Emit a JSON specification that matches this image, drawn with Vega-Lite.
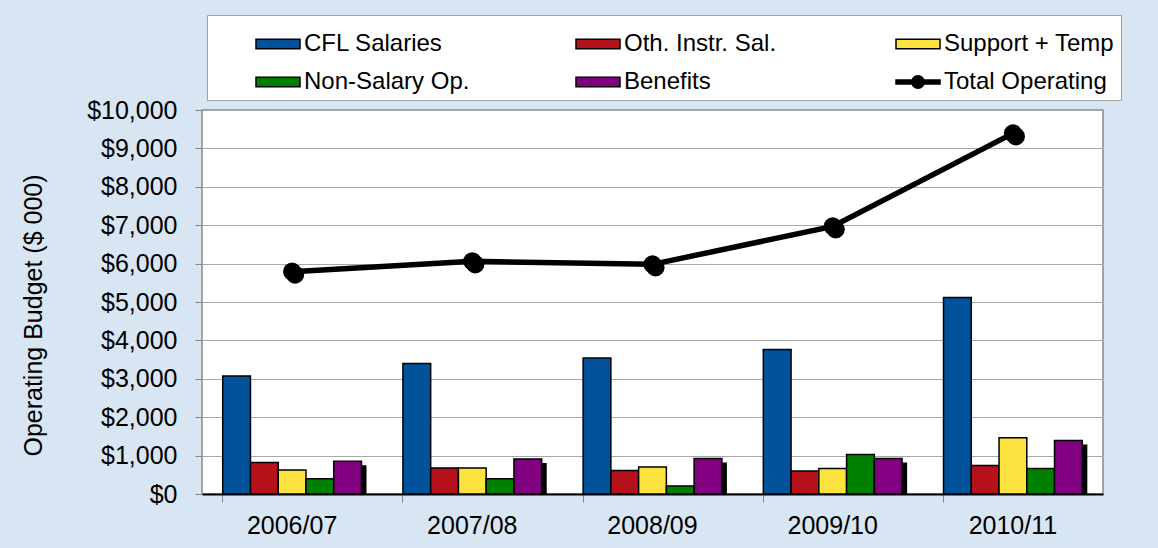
{
  "$schema": "https://vega.github.io/schema/vega-lite/v6.json",
  "width": 901,
  "height": 384,
  "autosize": {"type": "none"},
  "padding": {"left": 202, "top": 110, "right": 55, "bottom": 54},
  "background": "#d8e5f3",
  "config": {
    "font": "Liberation Sans",
    "view": {"fill": "white", "stroke": "#8a8a8a", "strokeWidth": 1.5}
  },
  "datasets": {
    "bars": [
      {"year": "2006/07", "series": "CFL Salaries", "value": 3070},
      {"year": "2006/07", "series": "Oth. Instr. Sal.", "value": 820},
      {"year": "2006/07", "series": "Support + Temp", "value": 625},
      {"year": "2006/07", "series": "Non-Salary Op.", "value": 400},
      {"year": "2006/07", "series": "Benefits", "value": 850},
      {"year": "2007/08", "series": "CFL Salaries", "value": 3400},
      {"year": "2007/08", "series": "Oth. Instr. Sal.", "value": 680},
      {"year": "2007/08", "series": "Support + Temp", "value": 680},
      {"year": "2007/08", "series": "Non-Salary Op.", "value": 400},
      {"year": "2007/08", "series": "Benefits", "value": 910},
      {"year": "2008/09", "series": "CFL Salaries", "value": 3540},
      {"year": "2008/09", "series": "Oth. Instr. Sal.", "value": 615},
      {"year": "2008/09", "series": "Support + Temp", "value": 700},
      {"year": "2008/09", "series": "Non-Salary Op.", "value": 210},
      {"year": "2008/09", "series": "Benefits", "value": 925},
      {"year": "2009/10", "series": "CFL Salaries", "value": 3765},
      {"year": "2009/10", "series": "Oth. Instr. Sal.", "value": 600},
      {"year": "2009/10", "series": "Support + Temp", "value": 665},
      {"year": "2009/10", "series": "Non-Salary Op.", "value": 1030},
      {"year": "2009/10", "series": "Benefits", "value": 925},
      {"year": "2010/11", "series": "CFL Salaries", "value": 5120},
      {"year": "2010/11", "series": "Oth. Instr. Sal.", "value": 740},
      {"year": "2010/11", "series": "Support + Temp", "value": 1465},
      {"year": "2010/11", "series": "Non-Salary Op.", "value": 665},
      {"year": "2010/11", "series": "Benefits", "value": 1395}
    ],
    "totals": [
      {"year": "2006/07", "value": 5790},
      {"year": "2007/08", "value": 6060},
      {"year": "2008/09", "value": 5980},
      {"year": "2009/10", "value": 6970},
      {"year": "2010/11", "value": 9390}
    ]
  },
  "resolve": {"scale": {"xOffset": "independent"}},
  "encoding": {
    "x": {
      "field": "year",
      "type": "nominal",
      "scale": {"paddingInner": 0.23, "paddingOuter": 0.115},
      "title": null,
      "axis": {
        "labelAngle": 0,
        "labelFontSize": 25,
        "labelColor": "black",
        "labelPadding": 11,
        "domainColor": "black",
        "domainWidth": 2,
        "tickColor": "#888888",
        "tickSize": 8,
        "bandPosition": 0,
        "grid": false
      }
    },
    "y": {
      "field": "value",
      "type": "quantitative",
      "scale": {"domain": [0, 10000], "nice": false},
      "title": "Operating Budget ($ 000)",
      "axis": {
        "values": [0, 1000, 2000, 3000, 4000, 5000, 6000, 7000, 8000, 9000, 10000],
        "tickCount": 12,
        "labelOverlap": false,
        "format": "$,.0f",
        "domain": false,
        "labelFontSize": 25,
        "labelColor": "black",
        "labelPadding": 18,
        "tickColor": "#888888",
        "tickSize": 7,
        "gridColor": "#a8a8a8",
        "gridWidth": 1,
        "titleFontSize": 25,
        "titleFontWeight": "normal",
        "titleColor": "black",
        "titlePadding": 40,
        "titleY": 205
      }
    }
  },
  "layer": [
    {
      "data": {"name": "bars"},
      "transform": [{"filter": "datum.series === 'Benefits'"}],
      "mark": {"type": "bar", "color": "black", "yOffset": 4, "clip": true},
      "encoding": {
        "xOffset": {
          "field": "series",
          "type": "nominal",
          "scale": {
            "domain": ["CFL Salaries", "Oth. Instr. Sal.", "Support + Temp", "Non-Salary Op.", "Benefits"],
            "range": [5, 143.8],
            "paddingInner": 0,
            "paddingOuter": 0
          }
        }
      }
    },
    {
      "data": {"name": "bars"},
      "mark": {"type": "bar", "stroke": "black", "strokeWidth": 1.5},
      "encoding": {
        "xOffset": {
          "field": "series",
          "type": "nominal",
          "scale": {
            "domain": ["CFL Salaries", "Oth. Instr. Sal.", "Support + Temp", "Non-Salary Op.", "Benefits"],
            "paddingInner": 0,
            "paddingOuter": 0
          }
        },
        "color": {
          "field": "series",
          "type": "nominal",
          "scale": {
            "domain": ["CFL Salaries", "Oth. Instr. Sal.", "Support + Temp", "Non-Salary Op.", "Benefits", "Total Operating"],
            "range": ["#00529b", "#b5121b", "#fde33f", "#008000", "#800080", "#000000"]
          },
          "legend": {
            "title": null,
            "orient": "none",
            "direction": "horizontal",
            "legendX": 5,
            "legendY": -95,
            "columns": 3,
            "gridAlign": "all",
            "fillColor": "white",
            "strokeColor": "#a0a0a0",
            "padding": 6,
            "rowPadding": 3,
            "columnPadding": 58,
            "symbolOffset": 42,
            "symbolSize": 1936,
            "symbolType": "M-1,-0.22H1V0.22H-1Z",
            "symbolStrokeColor": "black",
            "symbolStrokeWidth": 1.5,
            "symbolOpacity": 1,
            "labelFontSize": 24,
            "labelColor": "black",
            "labelOffset": 3,
            "labelLimit": 400,
            "encode": {
              "symbols": {
                "update": {
                  "shape": {"signal": "datum.value === 'Total Operating' ? 'M-1,-0.09H1V0.09H-1Z M0.28,0A0.28,0.28 0 1,1 -0.28,0A0.28,0.28 0 1,1 0.28,0Z' : 'M-1,-0.22H1V0.22H-1Z'"}
                }
              }
            }
          }
        }
      }
    },
    {
      "data": {"name": "totals"},
      "mark": {"type": "line", "color": "black", "strokeWidth": 5.5}
    },
    {
      "data": {"name": "totals"},
      "mark": {"type": "point", "filled": true, "color": "black", "opacity": 1, "size": 330, "xOffset": 3, "yOffset": 3}
    },
    {
      "data": {"name": "totals"},
      "mark": {"type": "point", "filled": true, "color": "black", "opacity": 1, "size": 330}
    }
  ]
}
